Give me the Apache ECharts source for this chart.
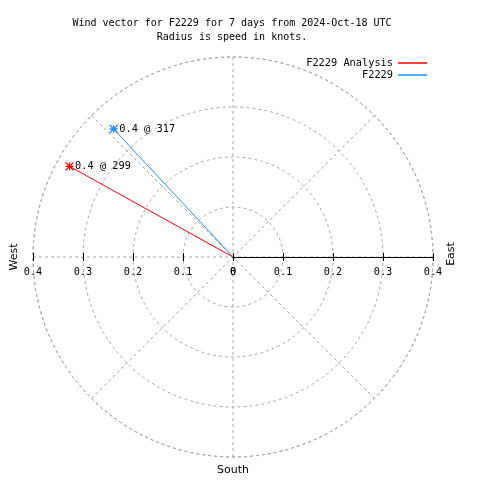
<!DOCTYPE html>
<html><head><meta charset="utf-8">
<script src="https://cdn.jsdelivr.net/npm/echarts@6/dist/echarts.min.js"></script>
<style>html,body{margin:0;padding:0;background:#fff}#c{width:480px;height:480px}</style>
</head><body><div id="c"></div>
<script>
const titleLines = ['Wind vector for F2229 for 7 days from 2024-Oct-18 UTC', 'Radius is speed in knots.'];
const seriesNames = ['F2229 Analysis', 'F2229'];
const seriesColors = ['#ff0000', '#1e90ff'];
const speeds = [0.374, 0.350];
const directions = [299, 317];
const speedLabels = ['0.4 @ 299', '0.4 @ 317'];
const radiusMax = 0.4;
const radiusStep = 0.1;
const angleStep = 45;
const compassLabels = { west: 'West', east: 'East', south: 'South' };

const MONO = '"DejaVu Sans Mono", "Liberation Mono", monospace';
const SANS = '"DejaVu Sans", sans-serif';
const FS = 10;
const CX = 233, CY = 257, R = 200;
const grayDash = { color: '#a8a8a8', type: [3, 3], width: 1 };
const star = 'path://M0,0L8,8M0,8L8,0M4,0L4,8M0,4L8,4';

function fmt(v) { return String(Math.abs(Math.round(v * 10) / 10)); }

const chart = echarts.init(document.getElementById('c'), null, { renderer: 'canvas' });

const series = seriesNames.map((name, i) => ({
  name: name,
  type: 'line',
  coordinateSystem: 'polar',
  polarIndex: 0,
  color: seriesColors[i],
  lineStyle: { color: seriesColors[i], width: 1 },
  itemStyle: { color: seriesColors[i], borderColor: seriesColors[i], borderWidth: 1.3 },
  symbol: star,
  symbolSize: 8,
  animation: false,
  z: 5,
  data: [
    { value: [0, 0], symbol: 'none' },
    { value: [speeds[i], directions[i]],
      label: { show: true, position: 'right', distance: 1, formatter: speedLabels[i],
               color: '#000', fontFamily: MONO, fontSize: FS + 0.3 } }
  ]
}));

function xAx(gridIndex, min, max, opts) {
  return Object.assign({
    type: 'value', gridIndex: gridIndex, min: min, max: max, interval: radiusStep,
    position: 'bottom',
    splitLine: { show: false },
    axisLine: { show: false },
    axisTick: { show: true, inside: false, length: 4, lineStyle: { color: '#000' } },
    axisLabel: { show: false }
  }, opts);
}

chart.setOption({
  animation: false,
  backgroundColor: '#fff',
  title: {
    text: titleLines.join('\n'),
    left: CX - 6, top: 12, textAlign: 'center',
    textStyle: { fontFamily: MONO, fontSize: FS, fontWeight: 'normal', color: '#000', lineHeight: 13.5 }
  },
  legend: {
    orient: 'vertical', align: 'right', right: 53, top: 58, padding: 0,
    itemWidth: 29, itemHeight: 1.5, itemGap: 2, icon: 'rect',
    itemStyle: { borderWidth: 0 },
    textStyle: { fontFamily: MONO, fontSize: FS + 0.3, color: '#000' },
    data: seriesNames
  },
  polar: [{ center: [CX, CY], radius: R }],
  angleAxis: {
    polarIndex: 0, type: 'value', min: 0, max: 360, interval: angleStep,
    startAngle: 90, clockwise: true,
    axisLine: { show: true, lineStyle: grayDash },
    axisTick: { show: false }, axisLabel: { show: false },
    splitLine: { show: true, lineStyle: grayDash }
  },
  radiusAxis: {
    polarIndex: 0, type: 'value', min: 0, max: radiusMax, interval: radiusStep,
    axisLine: { show: false }, axisTick: { show: false }, axisLabel: { show: false },
    splitLine: { show: true, lineStyle: grayDash }
  },
  grid: [
    { left: CX - R, width: R, top: CY - 100, height: 100 },
    { left: CX, width: R, top: CY - 100, height: 100 }
  ],
  xAxis: [
    xAx(0, -radiusMax, 0, { axisLabel: { show: true, margin: 10, formatter: fmt, color: '#000', fontFamily: MONO, fontSize: FS + 0.3 } }),
    xAx(0, -radiusMax, 0, { axisTick: { show: true, inside: true, length: 4, lineStyle: { color: '#000' } } }),
    xAx(1, 0, radiusMax, { axisLine: { show: true, lineStyle: { color: '#000', width: 1 } },
      axisLabel: { show: true, margin: 10, formatter: fmt, color: '#000', fontFamily: MONO, fontSize: FS + 0.3 } }),
    xAx(1, 0, radiusMax, { axisTick: { show: true, inside: true, length: 4, lineStyle: { color: '#000' } } })
  ],
  yAxis: [
    { type: 'value', gridIndex: 0, show: false },
    { type: 'value', gridIndex: 1, show: false }
  ],
  graphic: [
    { type: 'text', x: 14, y: 257, rotation: Math.PI / 2,
      style: { text: compassLabels.west, fontFamily: SANS, fontSize: 11, fill: '#000', align: 'center', verticalAlign: 'middle' } },
    { type: 'text', x: 451, y: 254, rotation: Math.PI / 2,
      style: { text: compassLabels.east, fontFamily: SANS, fontSize: 11, fill: '#000', align: 'center', verticalAlign: 'middle' } },
    { type: 'text', x: 233, y: 470,
      style: { text: compassLabels.south, fontFamily: SANS, fontSize: 11, fill: '#000', align: 'center', verticalAlign: 'middle' } }
  ],
  series: series
});
</script></body></html>
